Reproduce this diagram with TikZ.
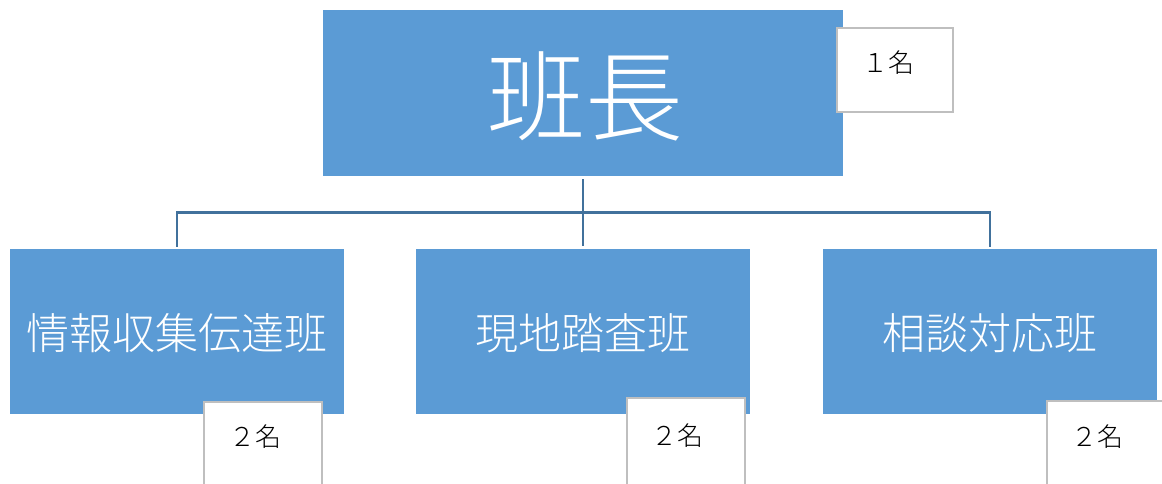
\documentclass[tikz,border=0pt]{standalone}
\usepackage{fontspec}
\setmainfont{Noto Sans CJK JP}[UprightFont=* Light]
\definecolor{boxblue}{HTML}{5B9BD5}
\definecolor{lineblue}{HTML}{41719C}
\definecolor{cntgray}{HTML}{BFBFBF}
\begin{document}
\begin{tikzpicture}[x=1pt,y=-1pt,
  bluebox/.style={draw=none,fill=boxblue,minimum width=334pt,minimum height=165pt,inner sep=0pt,text=white},
  cntbox/.style={draw=cntgray,line width=1.6pt,fill=white,minimum width=116pt,minimum height=84pt,inner sep=0pt},
  cnttext/.style={inner sep=0pt,font=\fontsize{26pt}{30pt}\selectfont,text=black},
  conn/.style={draw=lineblue,line width=2.8pt}]
\useasboundingbox (0,0) rectangle (1162,483);
\clip (0,0) rectangle (1162,483);
% top
\node[bluebox,minimum width=520pt,minimum height=166pt] (chief) at (583,93) {};
\node[inner sep=0pt,text=white,font=\fontsize{98pt}{110pt}\selectfont] (chieft) at (585,96) {班長};
\node[cntbox] (c1) at (895,70) {};
\node[cnttext] (c1t) at (888,63) {１名};
% bottom boxes
\node[bluebox] (info) at (177,331.5) {};
\node[bluebox] (site) at (583,331.5) {};
\node[bluebox] (cons) at (990,331.5) {};
\node[inner sep=0pt,text=white,font=\fontsize{43pt}{50pt}\selectfont] at (177,333) {情報収集伝達班};
\node[inner sep=0pt,text=white,font=\fontsize{43pt}{50pt}\selectfont] at (583,333) {現地踏査班};
\node[inner sep=0pt,text=white,font=\fontsize{43pt}{50pt}\selectfont] at (990,333) {相談対応班};
% connectors
\coordinate (hub) at (583,212.5);
\draw[conn] ([yshift=-3pt]chief.south) -- ([yshift=3pt]site.north);
\draw[conn,line cap=rect] ([yshift=3pt]info.north) |- (hub) -| ([yshift=3pt]cons.north);
% counts
\node[cntbox,minimum width=118pt,minimum height=90pt] (c2) at (263,447) {};
\node[cnttext] at (255,437) {２名};
\node[cntbox,minimum width=118pt,minimum height=90pt] (c3) at (686,443) {};
\node[cnttext] at (677,436) {２名};
\node[cntbox,minimum width=118pt,minimum height=90pt] (c4) at (1106,446) {};
\node[cnttext] at (1097,437) {２名};
\end{tikzpicture}
\end{document}
